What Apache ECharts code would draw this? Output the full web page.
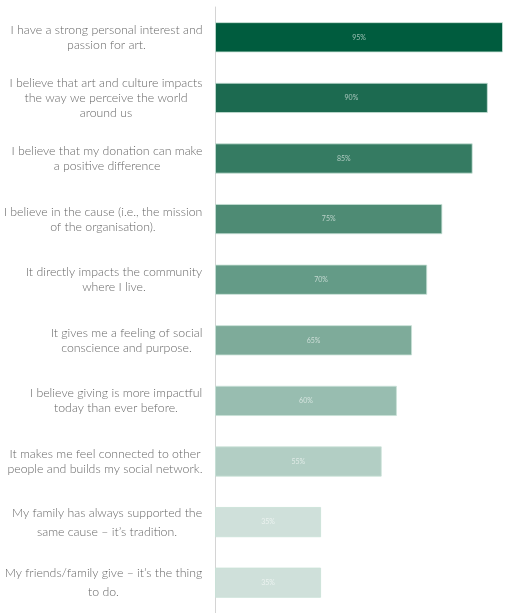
<!DOCTYPE html>
<html>
<head>
<meta charset="utf-8">
<script src="https://cdn.jsdelivr.net/npm/echarts@6/dist/echarts.min.js"></script>
<style>
html,body{margin:0;padding:0;background:#fff;}
#chart{width:505px;height:613px;}
</style>
</head>
<body>
<div id="chart"></div>
<script>
const categories = [
  "I have a strong personal interest and\npassion for art.",
  "I believe that art and culture impacts\nthe way we perceive the world\naround us",
  "I believe that my donation can make\na positive difference",
  "I believe in the cause (i.e., the mission\nof the organisation).",
  "It directly impacts the community\nwhere I live.",
  "It gives me a feeling of social\nconscience and purpose.",
  "I believe giving is more impactful\ntoday than ever before.",
  "It makes me feel connected to other\npeople and builds my social network.",
  "My family has always supported the\nsame cause \u2013 it\u2019s tradition.",
  "My friends/family give \u2013 it\u2019s the thing\nto do."
];
const values = [95, 90, 85, 75, 70, 65, 60, 55, 35, 35];
const barColors = ["#005c3e","#1c6a50","#357b62","#4e8b74","#649b87","#7eab9a","#98bdb0","#b2cec4","#cfe0da","#cfe0da"];

const FONT_SIZE = 12.3;
const FONT_FAMILY = "Lato";
const FONT_WEIGHT = 300;
const cvs = document.createElement('canvas').getContext('2d');
cvs.font = FONT_WEIGHT + ' ' + FONT_SIZE + 'px ' + FONT_FAMILY;
const rich = {};
categories.forEach((c, i) => {
  const w = Math.max(...c.split('\n').map(l => cvs.measureText(l).width));
  rich['w' + i] = {
    width: Math.ceil(w) + 1,
    align: 'center',
    fontSize: FONT_SIZE,
    fontFamily: FONT_FAMILY,
    fontWeight: FONT_WEIGHT,
    color: '#686868',
    lineHeight: i >= 8 ? 19 : 15
  };
});

const chart = echarts.init(document.getElementById('chart'), null, {renderer: 'canvas'});
chart.setOption({
  animation: false,
  grid: {left: 213, right: 2, top: 7, bottom: -3, containLabel: false},
  xAxis: {
    type: 'value', min: 0, max: 95, show: false
  },
  yAxis: {
    type: 'category',
    inverse: true,
    data: categories,
    axisLine: {show: true, lineStyle: {color: '#d4d4d4', width: 1}},
    axisTick: {show: false},
    axisLabel: {
      margin: 12,
      align: 'right',
      formatter: (v, i) => v.split('\n').map(l => '{w' + i + '|' + l + '}').join('\n'),
      rich: rich
    }
  },
  series: [{
    type: 'bar',
    data: values.map((v, i) => ({value: v, itemStyle: {color: barColors[i]}})),
    barCategoryGap: '50%',
    itemStyle: {borderColor: 'rgba(200,225,215,0.8)', borderWidth: 1},
    label: {
      show: true,
      position: 'inside',
      formatter: '{c}%',
      fontSize: 7,
      fontFamily: FONT_FAMILY,
      color: 'rgba(255,255,255,0.6)'
    }
  }]
});
</script>
</body>
</html>
